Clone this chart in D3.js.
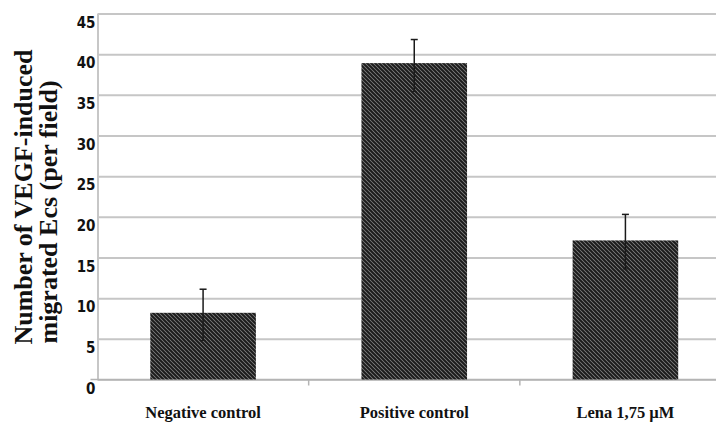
<!DOCTYPE html>
<html>
<head>
<meta charset="utf-8">
<script src="https://cdn.jsdelivr.net/npm/d3@7"></script>
<style>
  body { margin: 0; background: #fff; }
  svg { display: block; }
</style>
</head>
<body>
<script>
let w = 716;
let h = 425;

// data
let categories = ["Negative control", "Positive control", "Lena 1,75 \u00b5M"];
let means = [8.2, 38.9, 17.1];
let errUp = [2.9, 2.9, 3.2];
let errDown = [3.4, 3.5, 3.5];
let yTicks = [0, 5, 10, 15, 20, 25, 30, 35, 40, 45];
let titleLines = ["Number of VEGF-induced", "migrated Ecs (per field)"];

let plotLeft = 97.5, plotRight = 731, plotTop = 13.5, plotBottom = 379.5;

let xScale = d3.scaleBand()
  .domain(d3.range(categories.length))
  .range([plotLeft, plotRight])
  .paddingInner(0.5)
  .paddingOuter(0.25);

let yScale = d3.scaleLinear()
  .domain([0, 45])
  .range([plotBottom, plotTop]);

let svg = d3.select("body")
  .append("svg")
  .attr("width", w)
  .attr("height", h);

// hatch pattern for the bars
let pat = svg.append("defs")
  .append("pattern")
  .attr("id", "hatch")
  .attr("patternUnits", "userSpaceOnUse")
  .attr("width", 4)
  .attr("height", 4);
pat.append("rect").attr("width", 4).attr("height", 4).attr("fill", "#858585");
pat.append("path")
  .attr("d", "M-1,-1 L5,5 M-1,3 L1,5 M3,-1 L5,1")
  .attr("stroke", "#1c1c1c")
  .attr("stroke-width", 2);

// y axis with gridlines
let yAxis = d3.axisLeft(yScale)
  .tickValues(yTicks)
  .tickSizeInner(-(w - plotLeft))
  .tickSizeOuter(0)
  .tickPadding(2);

let gy = svg.append("g")
  .attr("transform", "translate(" + plotLeft + ",0)")
  .call(yAxis);

gy.select(".domain").attr("stroke", "#b4b4b4").attr("stroke-width", 1.5);
gy.selectAll(".tick line")
  .attr("stroke", "#c6c6c6")
  .attr("stroke-width", 2);
gy.selectAll(".tick text")
  .attr("y", 9)
  .attr("font-family", "'Liberation Sans Narrow', 'DejaVu Sans Condensed', sans-serif")
  .attr("font-weight", "bold")
  .attr("font-size", "15px")
  .attr("fill", "#111");

// x axis
let gx = svg.append("g")
  .attr("transform", "translate(0," + plotBottom + ")");
gx.append("line")
  .attr("x1", plotLeft - 7).attr("x2", w)
  .attr("stroke", "#b4b4b4").attr("stroke-width", 1.5);
gx.selectAll(".sep")
  .data(d3.range(1, categories.length + 1))
  .enter()
  .append("line")
  .attr("class", "sep")
  .attr("x1", i => plotLeft + i * xScale.step())
  .attr("x2", i => plotLeft + i * xScale.step())
  .attr("y1", 0).attr("y2", 6)
  .attr("stroke", "#b4b4b4").attr("stroke-width", 1.5);

// bars
svg.selectAll("rect.bar")
  .data(means)
  .enter()
  .append("rect")
  .attr("class", "bar")
  .attr("x", (d, i) => xScale(i))
  .attr("y", d => yScale(d))
  .attr("width", xScale.bandwidth())
  .attr("height", d => plotBottom - yScale(d))
  .attr("fill", "url(#hatch)");

// error bars
let eb = svg.selectAll("g.err")
  .data(means)
  .enter()
  .append("g")
  .attr("class", "err")
  .attr("stroke", "#1a1a1a")
  .attr("stroke-width", 1.5);

let cx = i => xScale(i) + xScale.bandwidth() / 2;
eb.append("line")
  .attr("x1", (d, i) => cx(i)).attr("x2", (d, i) => cx(i))
  .attr("y1", (d, i) => yScale(d + errUp[i]))
  .attr("y2", (d, i) => yScale(d - errDown[i]));
eb.append("line")
  .attr("x1", (d, i) => cx(i) - 3.5).attr("x2", (d, i) => cx(i) + 3.5)
  .attr("y1", (d, i) => yScale(d + errUp[i]))
  .attr("y2", (d, i) => yScale(d + errUp[i]));
eb.append("line")
  .attr("x1", (d, i) => cx(i) - 2.5).attr("x2", (d, i) => cx(i) + 2.5)
  .attr("y1", (d, i) => yScale(d - errDown[i]))
  .attr("y2", (d, i) => yScale(d - errDown[i]))
  .attr("stroke-width", 1);

// category labels
svg.selectAll("text.cat")
  .data(categories)
  .enter()
  .append("text")
  .attr("class", "cat")
  .text(d => d)
  .attr("text-anchor", "middle")
  .attr("x", (d, i) => cx(i))
  .attr("y", 418)
  .attr("font-family", "'Liberation Serif', 'Times New Roman', serif")
  .attr("font-weight", "bold")
  .attr("font-size", "16.5px")
  .attr("fill", "#111");

// y title, two lines rotated
svg.selectAll("text.ytitle")
  .data(titleLines)
  .enter()
  .append("text")
  .attr("class", "ytitle")
  .text(d => d)
  .attr("text-anchor", "middle")
  .attr("transform", (d, i) => i == 0 ? "translate(32,197) rotate(-90)" : "translate(57,212) rotate(-90)")
  .attr("font-family", "'Liberation Serif', 'Times New Roman', serif")
  .attr("font-weight", "bold")
  .attr("font-size", "26px")
  .attr("fill", "#111");
</script>
</body>
</html>
